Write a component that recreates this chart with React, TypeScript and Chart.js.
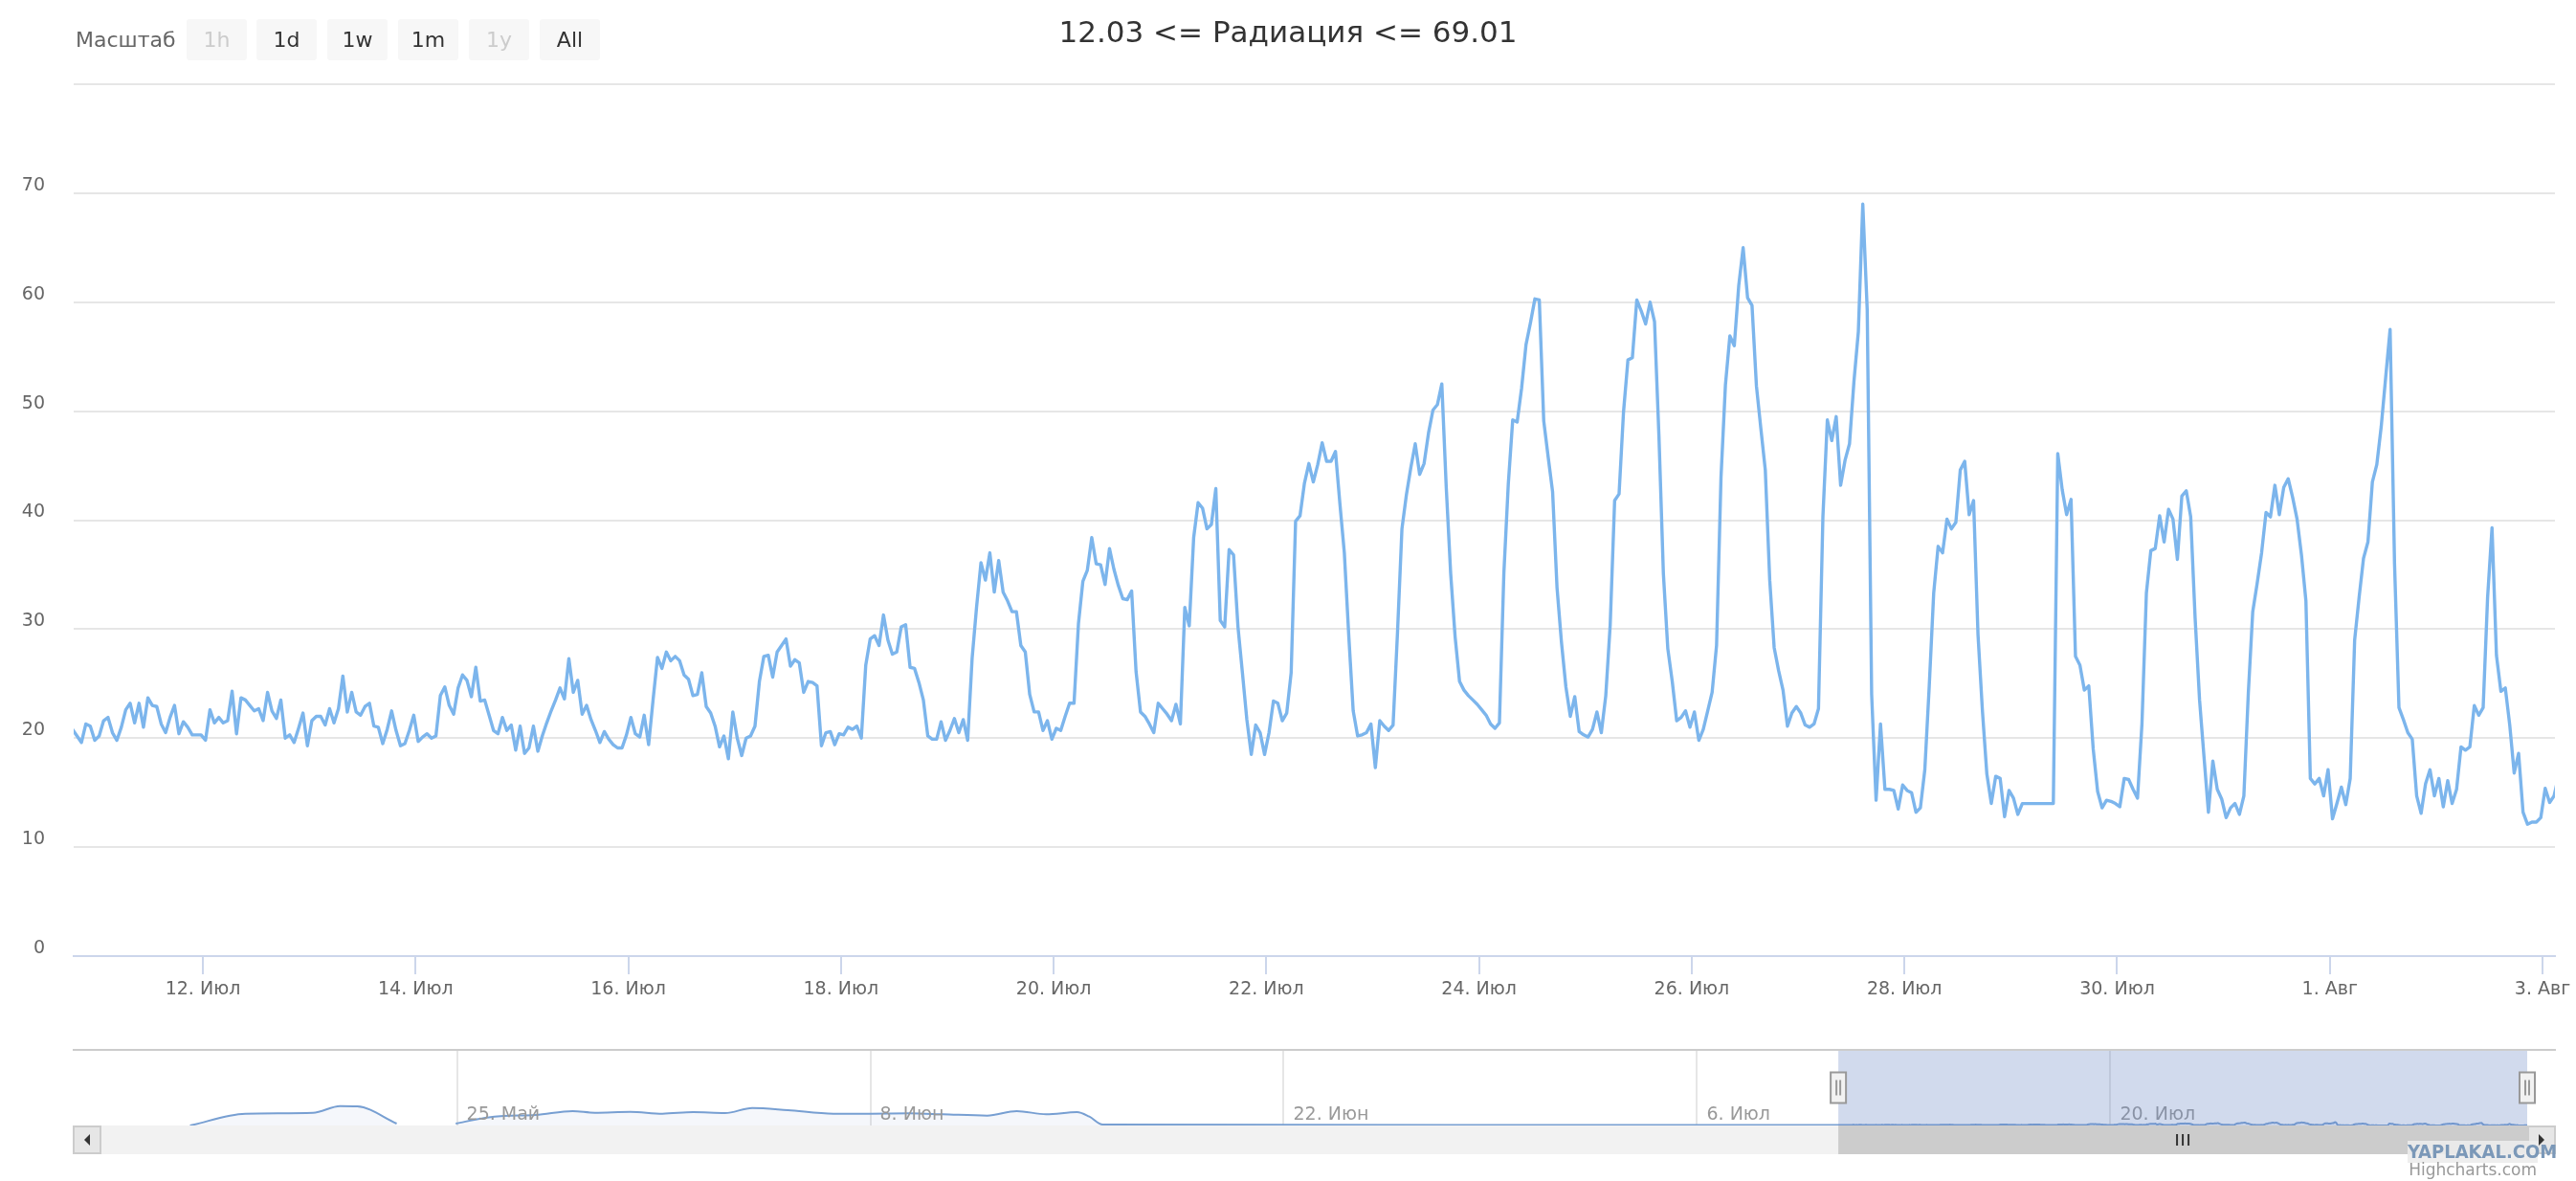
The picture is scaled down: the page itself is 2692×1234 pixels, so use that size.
import React, { useEffect, useRef } from 'react';
import { Chart, registerables } from 'chart.js';

Chart.register(...registerables);

const FONT = '"DejaVu Sans", "Liberation Sans", sans-serif';
Chart.defaults.font.family = FONT;

// ---------- data ----------
// hourly readings; time axis is "hours after 10 Jul 00:00"
const START_HOUR = 18.6;
const RADIATION: (number | null)[] = [
  20.8, 20.2, 19.6, 21.3, 21.1, 19.8, 20.2, 21.6, 21.9, 20.5,
  19.8, 21.0, 22.6, 23.2, 21.4, 23.2, 21.0, 23.7, 23.0, 22.9,
  21.3, 20.5, 21.9, 23.0, 20.4, 21.5, 21.0, 20.3, 20.3, 20.3,
  19.8, 22.6, 21.4, 21.9, 21.4, 21.6, 24.3, 20.4, 23.7, 23.5,
  23.0, 22.5, 22.7, 21.6, 24.2, 22.5, 21.8, 23.5, 20.0, 20.3,
  19.6, 20.9, 22.3, 19.3, 21.6, 22.0, 22.0, 21.2, 22.7, 21.4,
  22.7, 25.7, 22.4, 24.2, 22.4, 22.1, 22.9, 23.2, 21.1, 21.0,
  19.5, 20.8, 22.5, 20.7, 19.3, 19.5, 20.7, 22.1, 19.7, 20.1,
  20.4, 20.0, 20.2, 23.9, 24.7, 23.0, 22.2, 24.6, 25.8, 25.3,
  23.8, 26.5, 23.4, 23.5, 22.1, 20.7, 20.4, 21.9, 20.7, 21.2,
  18.9, 21.1, 18.6, 19.1, 21.1, 18.8, 20.2, 21.4, 22.5, 23.5,
  24.6, 23.6, 27.3, 24.2, 25.3, 22.2, 23.0, 21.7, 20.7, 19.6,
  20.6, 19.9, 19.4, 19.1, 19.1, 20.3, 21.9, 20.4, 20.1, 22.1,
  19.4, 23.5, 27.4, 26.4, 27.9, 27.1, 27.5, 27.1, 25.8, 25.4,
  23.9, 24.0, 26.0, 22.9, 22.3, 21.1, 19.2, 20.2, 18.1, 22.4,
  20.0, 18.4, 20.0, 20.2, 21.1, 25.2, 27.5, 27.6, 25.6, 27.9,
  28.5, 29.1, 26.6, 27.2, 26.9, 24.2, 25.2, 25.1, 24.8, 19.3,
  20.5, 20.6, 19.4, 20.4, 20.3, 21.0, 20.8, 21.1, 20.0, 26.7,
  29.1, 29.4, 28.5, 31.3, 29.0, 27.7, 27.9, 30.2, 30.4, 26.5,
  26.4, 25.1, 23.5, 20.2, 19.9, 19.9, 21.5, 19.8, 20.7, 21.8,
  20.5, 21.7, 19.8, 27.3, 32.0, 36.1, 34.5, 37.0, 33.4, 36.3,
  33.4, 32.6, 31.6, 31.6, 28.5, 27.9, 24.0, 22.4, 22.4, 20.7,
  21.6, 19.9, 20.9, 20.7, 22.0, 23.2, 23.2, 30.5, 34.4, 35.4,
  38.4, 36.0, 35.9, 34.1, 37.4, 35.5, 34.0, 32.8, 32.7, 33.5,
  26.1, 22.4, 22.0, 21.3, 20.5, 23.2, 22.7, 22.2, 21.6, 23.1,
  21.3, 32.0, 30.3, 38.4, 41.6, 41.1, 39.2, 39.6, 42.9, 30.8,
  30.2, 37.3, 36.8, 30.2, 26.0, 21.7, 18.5, 21.2, 20.5, 18.5,
  20.5, 23.4, 23.2, 21.6, 22.3, 26.0, 39.9, 40.4, 43.4, 45.2,
  43.5, 45.1, 47.1, 45.4, 45.4, 46.3, 41.5, 37.0, 29.4, 22.5,
  20.2, 20.3, 20.5, 21.3, 17.3, 21.6, 21.1, 20.7, 21.2, 29.7,
  39.2, 42.3, 44.8, 47.0, 44.2, 45.2, 48.0, 50.1, 50.6, 52.5,
  43.0, 35.1, 29.3, 25.2, 24.4, 23.9, 23.5, 23.1, 22.6, 22.1,
  21.3, 20.9, 21.4, 35.1, 43.3, 49.2, 49.0, 52.1, 56.1, 58.1,
  60.3, 60.2, 49.1, 45.8, 42.6, 33.8, 28.8, 24.7, 22.0, 23.8,
  20.6, 20.3, 20.1, 20.8, 22.4, 20.5, 23.9, 30.4, 41.8, 42.4,
  49.9, 54.7, 54.9, 60.2, 59.2, 58.0, 60.0, 58.2, 47.7, 35.1,
  28.2, 25.2, 21.6, 21.9, 22.5, 21.0, 22.4, 19.8, 20.8, 22.5,
  24.2, 28.5, 43.9, 52.4, 56.9, 56.0, 61.5, 65.0, 60.4, 59.7,
  52.3, 48.4, 44.6, 34.5, 28.3, 26.2, 24.4, 21.1, 22.3, 22.9,
  22.3, 21.2, 21.0, 21.3, 22.7, 40.3, 49.2, 47.3, 49.5, 43.2,
  45.5, 47.0, 52.7, 57.3, 69.0, 59.3, 24.0, 14.3, 21.3, 15.3,
  15.3, 15.2, 13.5, 15.7, 15.2, 15.0, 13.2, 13.6, 17.1, 24.8,
  33.3, 37.6, 37.0, 40.1, 39.2, 39.8, 44.6, 45.4, 40.5, 41.8,
  29.5, 22.5, 16.7, 14.0, 16.5, 16.3, 12.8, 15.2, 14.5, 13.0,
  14.0, null, null, null, null, null, null, 14.0, 46.1, 42.8,
  40.5, 41.9, 27.5, 26.7, 24.4, 24.8, 19.0, 15.1, 13.6, 14.3,
  14.2, 14.0, 13.7, 16.3, 16.2, 15.3, 14.5, 21.3, 33.3, 37.2,
  37.4, 40.4, 38.0, 41.0, 40.1, 36.4, 42.2, 42.7, 40.3, 31.0,
  23.5, 18.3, 13.2, 17.9, 15.3, 14.4, 12.7, 13.6, 14.0, 13.0,
  14.7, 24.1, 31.6, 34.2, 37.0, 40.7, 40.3, 43.2, 40.5, 43.0,
  43.8, 42.1, 40.1, 36.8, 32.6, 16.3, 15.8, 16.3, 14.7, 17.1,
  12.6, 14.0, 15.5, 13.9, 16.3, 29.0, 32.9, 36.5, 38.0, 43.5,
  45.1, 48.6, 53.1, 57.5, 36.0, 22.8, 21.7, 20.5, 19.9, 14.7,
  13.1, 15.8, 17.1, 14.7, 16.3, 13.7, 16.1, 14.0, 15.3, 19.2,
  18.9, 19.2, 23.0, 22.1, 22.8, 32.9, 39.3, 27.6, 24.3, 24.6,
  21.2, 16.8, 18.6, 13.2, 12.1, 12.3, 12.3, 12.7, 15.4, 14.1,
  14.7, 16.5,
];

const X_MIN = 18.85;
const X_MAX = 578.8;
const Y_MIN = 0;
const Y_MAX = 80;
const Y_STEP = 10;

const MAIN_TICK_HOURS = [48, 96, 144, 192, 240, 288, 336, 384, 432, 480, 528, 576];
const MAIN_TICK_LABELS = [
  '12. Июл', '14. Июл', '16. Июл', '18. Июл', '20. Июл', '22. Июл',
  '24. Июл', '26. Июл', '28. Июл', '30. Июл', '1. Авг', '3. Авг',
];

// navigator: earlier history (different magnitude), then the same series
const NAV_EARLY_HOURS = [
  -1321, -1276, -1221, -1199, -1185, -1153, -1130, -1105, -1081, -1066,
  -1040, -1010, -992, -963, -937, -912, -886, -864, -835, -798,
  -768, -736, -709, -673, -649, -625, -600, -590, -579, -300, 0,
];
const NAV_EARLY_VALUES: (number | null)[] = [
  12, 213, 229, 343, 338, 45, null, 45, 142, 175,
  191, 257, 229, 245, 213, 240, 224, 310, 273, 213,
  213, 219, 203, 180, 257, 203, 240, 164, 28, 20, 20,
];
const NAV_MIN = -1393;
const NAV_MAX = 578.8;
const NAV_Y_MIN = 12;
const NAV_Y_MAX = 1300;
const NAV_TICK_HOURS = [-1104, -768, -432, -96, 240];
const NAV_TICK_LABELS = ['25. Май', '8. Июн', '22. Июн', '6. Июл', '20. Июл'];

const TITLE = '12.03 <= Радиация <= 69.01';
const ZOOM_LABEL = 'Масштаб';
const ZOOM_BUTTONS = ['1h', '1d', '1w', '1m', '1y', 'All'];
const ZOOM_DISABLED = [true, false, false, false, true, false];
const CREDITS = 'Highcharts.com';
const WATERMARK = 'YAPLAKAL.COM';

// ---------- navigator decorations ----------
const SCROLL = 30;
const navigatorPlugin = {
  id: 'navigatorDecor',
  afterDatasetsDraw(chart: any) {
    const { ctx, chartArea: a } = chart;
    const x = chart.scales.x;
    const mL = Math.max(a.left, x.getPixelForValue(X_MIN));
    const mR = Math.min(a.right, x.getPixelForValue(X_MAX));
    ctx.save();
    // labels
    ctx.font = `19px ${FONT}`;
    ctx.fillStyle = '#999999';
    ctx.textAlign = 'left';
    ctx.textBaseline = 'alphabetic';
    NAV_TICK_HOURS.forEach((h, i) => {
      ctx.fillText(NAV_TICK_LABELS[i], x.getPixelForValue(h) + 10, a.bottom - 6);
    });
    // mask
    ctx.fillStyle = 'rgba(102,133,194,0.3)';
    ctx.fillRect(mL, a.top, mR - mL, a.bottom - a.top);
    // outline
    ctx.strokeStyle = '#cccccc';
    ctx.lineWidth = 2;
    ctx.beginPath();
    ctx.moveTo(a.left - SCROLL, a.top);
    ctx.lineTo(a.right + SCROLL, a.top);
    ctx.stroke();
    // scrollbar track
    const sy = a.bottom;
    ctx.fillStyle = '#f2f2f2';
    ctx.fillRect(a.left - SCROLL, sy, a.right - a.left + 2 * SCROLL, SCROLL);
    // thumb
    ctx.fillStyle = '#cccccc';
    ctx.fillRect(mL, sy, mR - mL, SCROLL);
    const gx = (mL + mR) / 2;
    const gy = sy + SCROLL / 2;
    ctx.strokeStyle = '#333333';
    ctx.lineWidth = 2;
    [-6, 0, 6].forEach((d) => {
      ctx.beginPath();
      ctx.moveTo(gx + d, gy - 6);
      ctx.lineTo(gx + d, gy + 6);
      ctx.stroke();
    });
    // buttons
    const drawBtn = (bx: number, dir: number) => {
      ctx.fillStyle = '#e6e6e6';
      ctx.fillRect(bx, sy, SCROLL, SCROLL);
      ctx.strokeStyle = '#cccccc';
      ctx.lineWidth = 2;
      ctx.strokeRect(bx + 1, sy + 1, SCROLL - 2, SCROLL - 2);
      const cx = bx + SCROLL / 2;
      const cy = sy + SCROLL / 2;
      ctx.fillStyle = '#333333';
      ctx.beginPath();
      ctx.moveTo(cx - 3 * dir, cy - 6);
      ctx.lineTo(cx - 3 * dir, cy + 6);
      ctx.lineTo(cx + 3 * dir, cy);
      ctx.closePath();
      ctx.fill();
    };
    drawBtn(a.left - SCROLL, -1);
    drawBtn(a.right, 1);
    // handles
    const hy = (a.top + a.bottom) / 2;
    [mL, mR].forEach((hx) => {
      ctx.fillStyle = '#f2f2f2';
      ctx.fillRect(hx - 8, hy - 16, 16, 32);
      ctx.strokeStyle = '#999999';
      ctx.lineWidth = 2;
      ctx.strokeRect(hx - 8, hy - 16, 16, 32);
      [-2, 2].forEach((d) => {
        ctx.beginPath();
        ctx.moveTo(hx + d, hy - 8);
        ctx.lineTo(hx + d, hy + 8);
        ctx.stroke();
      });
    });
    ctx.restore();
  },
};

export default function App() {
  const mainRef = useRef<HTMLCanvasElement>(null);
  const navRef = useRef<HTMLCanvasElement>(null);

  useEffect(() => {
    const mainData = RADIATION.map((v, i) => ({ x: START_HOUR + i, y: v }));
    const main = new Chart(mainRef.current as HTMLCanvasElement, {
      type: 'line',
      data: {
        datasets: [
          {
            data: mainData as any,
            borderColor: '#7cb5ec',
            borderWidth: 3.4,
            pointRadius: 0,
            pointHoverRadius: 0,
            tension: 0,
            spanGaps: true,
            fill: false,
            borderJoinStyle: 'round',
            borderCapStyle: 'round',
          },
        ],
      },
      options: {
        responsive: false,
        maintainAspectRatio: false,
        animation: false,
        events: [],
        layout: { padding: { top: 88, right: 22, left: 0, bottom: 0 } },
        plugins: { legend: { display: false }, tooltip: { enabled: false }, title: { display: false } },
        scales: {
          x: {
            type: 'linear',
            min: X_MIN,
            max: X_MAX,
            afterBuildTicks: (s: any) => {
              s.ticks = MAIN_TICK_HOURS.map((v) => ({ value: v }));
            },
            afterFit: (s: any) => {
              s.height = 86;
              s.paddingLeft = 0;
              s.paddingRight = 0;
            },
            grid: { drawOnChartArea: false, drawTicks: true, tickLength: 19, color: '#ccd6eb', lineWidth: 2 },
            border: { display: true, color: '#ccd6eb', width: 2 },
            ticks: {
              autoSkip: false,
              maxRotation: 0,
              minRotation: 0,
              padding: 5,
              color: '#666666',
              font: { size: 19, family: FONT },
              callback: (v: any) => {
                const i = MAIN_TICK_HOURS.indexOf(Number(v));
                return i >= 0 ? MAIN_TICK_LABELS[i] : '';
              },
            },
          },
          y: {
            type: 'linear',
            min: Y_MIN,
            max: Y_MAX,
            afterFit: (s: any) => {
              s.width = 77;
              s.paddingTop = 0;
              s.paddingBottom = 0;
            },
            ticks: {
              stepSize: Y_STEP,
              padding: 30,
              labelOffset: -8,
              color: '#666666',
              font: { size: 19, family: FONT },
              callback: (v: any) => (Number(v) === Y_MAX ? '' : String(v)),
            },
            grid: {
              drawTicks: false,
              lineWidth: 2,
              color: (c: any) => (c.tick && c.tick.value === 0 ? 'rgba(0,0,0,0)' : '#e6e6e6'),
            },
            border: { display: false },
          },
        },
      } as any,
    });

    const navData = [
      ...NAV_EARLY_HOURS.map((h, i) => ({ x: h, y: NAV_EARLY_VALUES[i] })),
      ...RADIATION.map((v, i) => ({ x: START_HOUR + i, y: v })).filter((p) => p.y !== null),
    ];
    const nav = new Chart(navRef.current as HTMLCanvasElement, {
      type: 'line',
      data: {
        datasets: [
          {
            data: navData as any,
            borderColor: '#779fd2',
            borderWidth: 2,
            backgroundColor: 'rgba(51,92,173,0.05)',
            fill: 'start',
            pointRadius: 0,
            pointHoverRadius: 0,
            cubicInterpolationMode: 'monotone',
            spanGaps: false,
          },
        ],
      },
      options: {
        responsive: false,
        maintainAspectRatio: false,
        animation: false,
        events: [],
        layout: { padding: { left: 106, right: 51, top: 12, bottom: 58 } },
        plugins: { legend: { display: false }, tooltip: { enabled: false } },
        scales: {
          x: {
            type: 'linear',
            min: NAV_MIN,
            max: NAV_MAX,
            afterBuildTicks: (s: any) => {
              s.ticks = NAV_TICK_HOURS.map((v) => ({ value: v }));
            },
            afterFit: (s: any) => {
              s.height = 0;
              s.paddingLeft = 0;
              s.paddingRight = 0;
            },
            ticks: { display: false },
            grid: { drawTicks: false, color: '#e6e6e6', lineWidth: 2 },
            border: { display: false },
          },
          y: { type: 'linear', min: NAV_Y_MIN, max: NAV_Y_MAX, display: false },
        },
      } as any,
      plugins: [navigatorPlugin],
    });

    return () => {
      main.destroy();
      nav.destroy();
    };
  }, []);

  const btnLefts = [195, 268, 342, 416, 490, 564];

  return (
    <div
      style={{
        position: 'absolute',
        left: 0,
        top: 0,
        width: 2692,
        height: 1234,
        background: '#ffffff',
        overflow: 'hidden',
        fontFamily: FONT,
      }}
    >
      <canvas
        ref={mainRef}
        width={2692}
        height={1085}
        style={{ position: 'absolute', left: 0, top: 0, width: 2692, height: 1085 }}
      />
      <canvas
        ref={navRef}
        width={2692}
        height={149}
        style={{ position: 'absolute', left: 0, top: 1085, width: 2692, height: 149 }}
      />
      <div
        style={{
          position: 'absolute',
          left: 0,
          top: 13,
          width: 2692,
          textAlign: 'center',
          fontSize: 31,
          lineHeight: '40px',
          color: '#333333',
        }}
      >
        {TITLE}
      </div>
      <div
        style={{
          position: 'absolute',
          left: 79,
          top: 20,
          height: 43,
          lineHeight: '43px',
          fontSize: 22,
          color: '#666666',
        }}
      >
        {ZOOM_LABEL}
      </div>
      {ZOOM_BUTTONS.map((b, i) => (
        <div
          key={b}
          style={{
            position: 'absolute',
            left: btnLefts[i],
            top: 20,
            width: 63,
            height: 43,
            lineHeight: '43px',
            textAlign: 'center',
            fontSize: 22,
            background: '#f7f7f7',
            borderRadius: 3,
            color: ZOOM_DISABLED[i] ? '#cccccc' : '#333333',
          }}
        >
          {b}
        </div>
      ))}
      <div
        style={{
          position: 'absolute',
          left: 2516,
          top: 1192,
          width: 136,
          height: 23,
          background: 'rgba(236,236,236,0.9)',
          color: '#7b98b8',
          fontFamily: '"Liberation Sans Narrow", "DejaVu Sans Condensed", "DejaVu Sans", sans-serif',
          fontWeight: 'bold',
          fontSize: 20,
          lineHeight: '23px',
          textAlign: 'center',
          whiteSpace: 'nowrap',
        }}
      >
        {WATERMARK}
      </div>
      <div
        style={{
          position: 'absolute',
          left: 2350,
          width: 301,
          top: 1211,
          fontSize: 17,
          lineHeight: '22px',
          textAlign: 'right',
          color: '#999999',
          whiteSpace: 'nowrap',
        }}
      >
        {CREDITS}
      </div>
    </div>
  );
}
